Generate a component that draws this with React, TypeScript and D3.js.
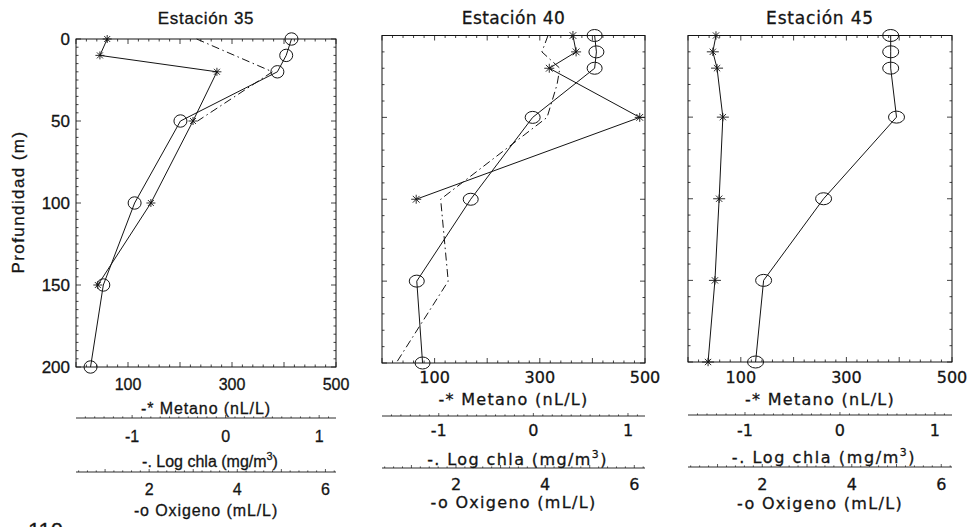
import React from "react";
import * as d3 from "d3";

// Axis ticks and domains
const depthTicks = [0, 50, 100, 150, 200];
const metanoTicks = [100, 300, 500];
const chlaTicks = [-1, 0, 1];
const oxigenoTicks = [2, 4, 6];
const depthDomain = [0, 200];
const metanoDomain = [0, 500];
const chlaDomain = [-1.6, 1.18];
const oxigenoDomain = [0.34, 6.24];

const stationNames = ["Estación 35", "Estación 40", "Estación 45"];

// Estación 35
const met35Depth = [0, 10, 20, 50, 100, 150];
const met35 = [60, 46, 271, 225, 144, 42];
const ox35Depth = [0, 10, 20, 50, 100, 150, 200];
const ox35 = [5.23, 5.11, 4.91, 2.71, 1.67, 0.96, 0.67];
const chla35Depth = [0, 20, 50];
const chla35 = [-0.31, 0.5, -0.3];

// Estación 40
const met40Depth = [0, 10, 20, 50, 100];
const met40 = [363, 369, 318, 490, 65];
const ox40Depth = [0, 10, 20, 50, 100, 150, 200];
const ox40 = [5.11, 5.15, 5.11, 3.72, 2.33, 1.12, 1.25];
const chla40Depth = [0, 10, 20, 30, 50, 100, 150, 200];
const chla40 = [0.155, 0.09, 0.28, 0.25, 0.145, -0.98, -0.9, -1.45];

// Estación 45
const met45Depth = [0, 10, 20, 50, 100, 150, 200];
const met45 = [53, 47, 55, 66, 59, 51, 38];
const ox45Depth = [0, 10, 20, 50, 100, 150, 200];
const ox45 = [4.87, 4.87, 4.87, 5.0, 3.37, 2.03, 1.85];
const chla45Depth: number[] = [];
const chla45: number[] = [];

type Layout = {
  left: number; right: number; top: number; bottom: number;
  yMinor: number;
  font: string; tickSize: number; tickLs: number; titleLs: number; chlaLs: number;
  headSize: number; headLs: number;
  metLabelY: number; metTitleY: number;
  chlaLineY: number; chlaLabelY: number; chlaTitleY: number;
  oxLineY: number; oxLabelY: number; oxTitleY: number;
  rx: number; ry: number; ah: number; av: number;
};

const layouts: Layout[] = [
  {
    left: 76, right: 336, top: 39, bottom: 367, yMinor: 5,
    font: "'Liberation Sans', Arial, sans-serif", tickSize: 16, tickLs: 0, titleLs: 0.9, chlaLs: 0,
    headSize: 17, headLs: 0.7,
    metLabelY: 390, metTitleY: 414, chlaLineY: 418, chlaLabelY: 442, chlaTitleY: 467,
    oxLineY: 472, oxLabelY: 495, oxTitleY: 516,
    rx: 6.5, ry: 6.2, ah: 4.5, av: 4,
  },
  {
    left: 382, right: 645, top: 35.5, bottom: 363, yMinor: 10,
    font: "'DejaVu Sans', sans-serif", tickSize: 16, tickLs: 0, titleLs: 1.3, chlaLs: 1.4,
    headSize: 17, headLs: 0.4,
    metLabelY: 383, metTitleY: 405, chlaLineY: 416, chlaLabelY: 436, chlaTitleY: 465,
    oxLineY: 468, oxLabelY: 490, oxTitleY: 508,
    rx: 7.5, ry: 6, ah: 5, av: 4.5,
  },
  {
    left: 688, right: 952, top: 35.5, bottom: 362, yMinor: 10,
    font: "'DejaVu Sans', sans-serif", tickSize: 16, tickLs: 0, titleLs: 1.3, chlaLs: 1.6,
    headSize: 17, headLs: 0.8,
    metLabelY: 383, metTitleY: 405, chlaLineY: 415, chlaLabelY: 436, chlaTitleY: 463,
    oxLineY: 467, oxLabelY: 490, oxTitleY: 509,
    rx: 8, ry: 6, ah: 6, av: 4.2,
  },
];

const series = [
  { metD: met35Depth, met: met35, oxD: ox35Depth, ox: ox35, chD: chla35Depth, ch: chla35 },
  { metD: met40Depth, met: met40, oxD: ox40Depth, ox: ox40, chD: chla40Depth, ch: chla40 },
  { metD: met45Depth, met: met45, oxD: ox45Depth, ox: ox45, chD: chla45Depth, ch: chla45 },
];

const INK = "#141414";

function asteriskPath(h: number, v: number) {
  const d = Math.min(h, v) * 0.75;
  return `M${-h},0L${h},0M0,${-v}L0,${v}M${-d},${-d}L${d},${d}M${-d},${d}L${d},${-d}`;
}

function StationPanel({ idx }: { idx: number }) {
  const L = layouts[idx];
  const s = series[idx];
  const x = d3.scaleLinear().domain(metanoDomain).range([L.left, L.right]);
  const xc = d3.scaleLinear().domain(chlaDomain).range([L.left, L.right]);
  const xo = d3.scaleLinear().domain(oxigenoDomain).range([L.left, L.right]);
  const y = d3.scaleLinear().domain(depthDomain).range([L.top, L.bottom]);
  const line = d3.line<[number, number]>().x((p) => p[0]).y((p) => p[1]);

  const metPts: [number, number][] = s.metD.map((d, i) => [x(s.met[i]), y(d)]);
  const oxPts: [number, number][] = s.oxD.map((d, i) => [xo(s.ox[i]), y(d)]);
  const chPts: [number, number][] = s.chD.map((d, i) => [xc(s.ch[i]), y(d)]);

  const yMinor = d3.range(0, 200.01, L.yMinor);
  const xMinor = d3.range(0, 500.01, 20);
  const xMajor = d3.range(0, 500.01, 100);
  const chMinor = d3.range(-1.5, 1.15, 0.1).filter((v) => v >= chlaDomain[0] && v <= chlaDomain[1]);
  const oxMinor = d3.range(0.4, 6.22, 0.2);
  const cx = (L.left + L.right) / 2;
  const isInt = (v: number) => Math.abs(v - Math.round(v)) < 1e-6;

  return (
    <g fontFamily={L.font} fill={INK}>
      <g stroke={INK} strokeWidth={0.3}>
        <text x={cx} y={24} textAnchor="middle" fontSize={L.headSize} letterSpacing={L.headLs}>
          {stationNames[idx]}
        </text>

        {/* depth labels on the first panel */}
        {idx === 0 && (
          <g fontSize={17} textAnchor="end">
            {depthTicks.map((d) => (
              <text key={d} x={70} y={y(d) + 6}>{d}</text>
            ))}
            <text transform={`translate(24,202) rotate(-90)`} textAnchor="middle" letterSpacing={1.4}>
              Profundidad (m)
            </text>
          </g>
        )}

        <g fontSize={L.tickSize} textAnchor="middle" letterSpacing={L.tickLs}>
          {metanoTicks.map((v) => (
            <text key={v} x={x(v)} y={L.metLabelY}>{v}</text>
          ))}
          {chlaTicks.map((v) => (
            <text key={v} x={xc(v)} y={L.chlaLabelY}>{v}</text>
          ))}
          {oxigenoTicks.map((v) => (
            <text key={v} x={xo(v)} y={L.oxLabelY}>{v}</text>
          ))}
        </g>
        <text x={cx} y={L.metTitleY} textAnchor="middle" fontSize={L.tickSize} letterSpacing={L.titleLs}>
          -* Metano (nL/L)
        </text>
        <text x={cx + 4} y={L.chlaTitleY} textAnchor="middle" fontSize={L.tickSize} letterSpacing={L.chlaLs}>
          -. Log chla (mg/m<tspan fontSize={L.tickSize * 0.68} dy={-7}>3</tspan><tspan dy={7}>)</tspan>
        </text>
        <text x={cx} y={L.oxTitleY} textAnchor="middle" fontSize={L.tickSize} letterSpacing={L.titleLs}>
          -o Oxigeno (mL/L)
        </text>
      </g>

      {/* box frame with inward ticks */}
      <rect x={L.left} y={L.top} width={L.right - L.left} height={L.bottom - L.top}
        fill="none" stroke={INK} strokeWidth={1} />
      <g stroke={INK} strokeWidth={0.8}>
        {yMinor.map((d) => {
          const len = depthTicks.includes(d) ? 5 : 2.5;
          return (
            <g key={"y" + d}>
              <line x1={L.left} x2={L.left + len} y1={y(d)} y2={y(d)} />
              <line x1={L.right} x2={L.right - len} y1={y(d)} y2={y(d)} />
            </g>
          );
        })}
        {xMinor.map((v) => {
          const len = xMajor.includes(v) ? 5 : 2.5;
          return (
            <g key={"x" + v}>
              <line x1={x(v)} x2={x(v)} y1={L.bottom} y2={L.bottom - len} />
              <line x1={x(v)} x2={x(v)} y1={L.top} y2={L.top + len} />
            </g>
          );
        })}
      </g>

      {/* chla axis */}
      <line x1={L.left} x2={L.right} y1={L.chlaLineY} y2={L.chlaLineY} stroke={INK} strokeWidth={0.9} />
      <g stroke={INK} strokeWidth={0.7}>
        {chMinor.map((v, i) => (
          <line key={i} x1={xc(v)} x2={xc(v)} y1={L.chlaLineY} y2={L.chlaLineY - (isInt(v) ? 3 : 1.6)} />
        ))}
      </g>

      {/* oxigeno axis */}
      <line x1={L.left} x2={L.right} y1={L.oxLineY} y2={L.oxLineY} stroke={INK} strokeWidth={0.9} />
      <g stroke={INK} strokeWidth={0.7}>
        {oxMinor.map((v, i) => (
          <line key={i} x1={xo(v)} x2={xo(v)} y1={L.oxLineY} y2={L.oxLineY - (isInt(v) ? 3 : 1.6)} />
        ))}
      </g>

      {/* profiles */}
      <g fill="none" stroke={INK} strokeWidth={1}>
        {chPts.length > 1 && (
          <path d={line(chPts) || ""} strokeDasharray="8,3.5,1.5,3.5" />
        )}
        <path d={line(metPts) || ""} />
        <path d={line(oxPts) || ""} />
        {metPts.map((p, i) => (
          <path key={"m" + i} d={asteriskPath(L.ah, L.av)} transform={`translate(${p[0]},${p[1]})`} strokeWidth={0.9} />
        ))}
        {oxPts.map((p, i) => (
          <ellipse key={"o" + i} cx={p[0]} cy={p[1]} rx={L.rx} ry={L.ry} strokeWidth={1} />
        ))}
      </g>
    </g>
  );
}

export default function App() {
  return (
    <svg width={971} height={527} viewBox="0 0 971 527"
      style={{ position: "absolute", left: 0, top: 0, background: "#fff" }}>
      <rect width={971} height={527} fill="#fff" />
      {[0, 1, 2].map((i) => (
        <StationPanel key={i} idx={i} />
      ))}
      <text x={28} y={538} fontFamily="'Liberation Sans', Arial, sans-serif" fontSize={22}
        fill={INK} stroke={INK} strokeWidth={0.3}>
        110
      </text>
    </svg>
  );
}
